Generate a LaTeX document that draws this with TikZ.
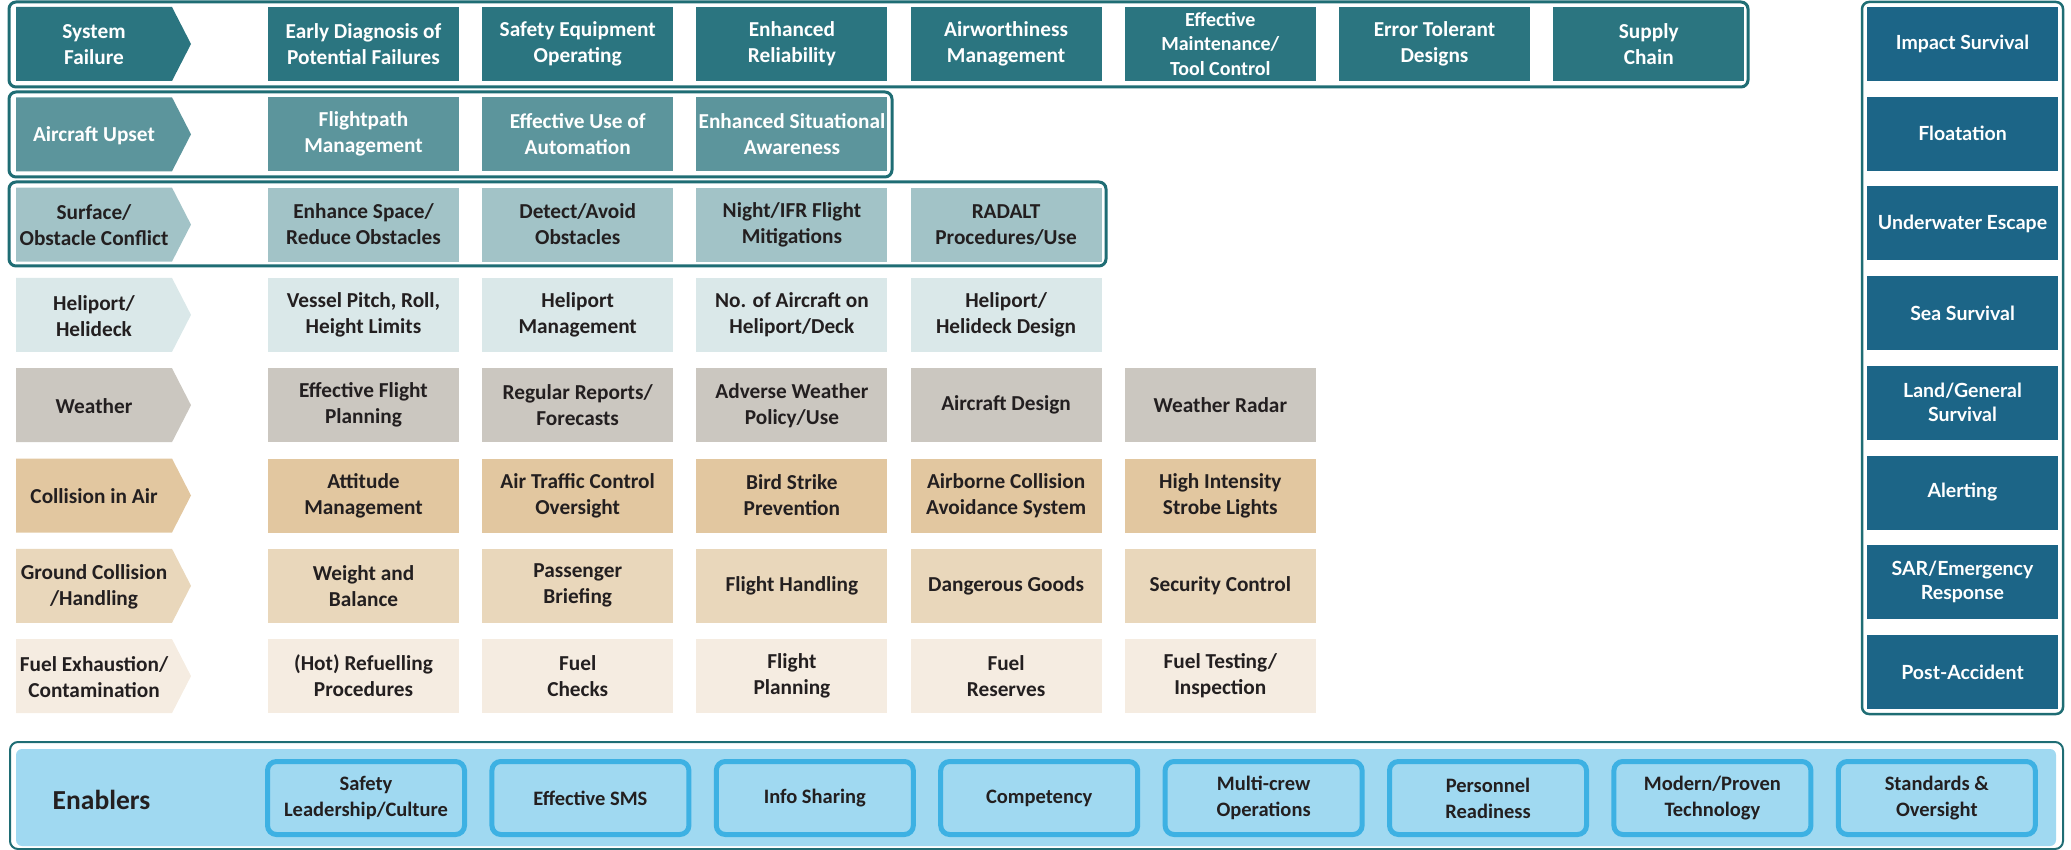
\documentclass[tikz,border=0pt]{standalone}
\usepackage{fontspec}
\setmainfont{Carlito}
\newfontfamily\rfont{Lato}
\definecolor{row1}{HTML}{2B7580}
\definecolor{row2}{HTML}{5C959C}
\definecolor{row3}{HTML}{A2C3C7}
\definecolor{row4}{HTML}{DAE8E9}
\definecolor{row5}{HTML}{CBC7C0}
\definecolor{row6}{HTML}{E2C7A0}
\definecolor{row7}{HTML}{E9D7BB}
\definecolor{row8}{HTML}{F5ECE1}
\definecolor{txtd}{HTML}{231F20}
\colorlet{txt1}{white}
\colorlet{txt2}{white}
\colorlet{txt3}{txtd}
\colorlet{txt4}{txtd}
\colorlet{txt5}{txtd}
\colorlet{txt6}{txtd}
\colorlet{txt7}{txtd}
\colorlet{txt8}{txtd}
\definecolor{framec}{HTML}{1F6D74}
\definecolor{rbox}{HTML}{1C6587}
\definecolor{enfill}{HTML}{A0D9F1}
\definecolor{enline}{HTML}{3DB1E3}
\tikzset{
  gbox/.style={rectangle, minimum width=191pt, minimum height=74pt, inner sep=0pt, align=center, font=\fontsize{21.3}{26}\selectfont\bfseries},
  ctext/.style={inner sep=0pt, align=center, font=\fontsize{21.3}{26}\selectfont\bfseries},
  grp/.style={draw=framec, line width=3pt, rounded corners=7pt},
  rb/.style={rectangle, fill=rbox, text=white, minimum width=191pt, minimum height=74pt, inner sep=0pt, align=center, font=\rfont\fontsize{19.5}{24}\selectfont\bfseries},
  eb/.style={rectangle, rounded corners=9pt, draw=enline, line width=5pt, fill=enfill, minimum width=197pt, minimum height=73pt, inner sep=0pt, align=center, text=txtd, font=\fontsize{20.5}{26}\selectfont\bfseries}
}
\newcommand\gcell[3]{\node[gbox, fill=row#1, text=txt#1] (r#1c#2) at ({363.5+214.2*(#2-1)},{44+90.3*(#1-1)}) {#3};}
\newcommand\gchev[2]{%
  \fill[row#1] (16,{7+90.3*(#1-1)}) -- (172,{7+90.3*(#1-1)}) -- (191,{44+90.3*(#1-1)}) -- (172,{81+90.3*(#1-1)}) -- (16,{81+90.3*(#1-1)}) -- cycle;
  \node[ctext, text=txt#1] (ch#1) at (94,{45+90.3*(#1-1)}) {#2};}
\newcommand\rcell[2]{\node[rb] (s#1) at (1962.5,{44+89.7*(#1-1)}) {#2};}
\newcommand\ecell[2]{\node[eb] (e#1) at ({366+224.4*(#1-1)},798) {#2};}
\begin{document}
\begin{tikzpicture}[x=1pt,y=-1pt]
\useasboundingbox (0,0) rectangle (2071,850);
% group frames
\draw[grp] (9,2) rectangle (1748,87);
\draw[grp] (9,92) rectangle (892,177);
\draw[grp] (9,182) rectangle (1106,266);
\draw[draw=framec, line width=2.5pt, rounded corners=7pt] (1862,2) rectangle (2063,714);
% row 1
\gchev{1}{System\\Failure}
\gcell{1}{1}{Early Diagnosis of\\Potential Failures}
\gcell{1}{2}{Safety Equipment\\Operating}
\gcell{1}{3}{Enhanced\\Reliability}
\gcell{1}{4}{Airworthiness\\Management}
\node[gbox, fill=row1, text=white, font=\fontsize{20}{24.5}\selectfont\bfseries] (r1c5) at ({363.5+214.2*4},44) {Effective\\Maintenance/\\Tool Control};
\gcell{1}{6}{Error Tolerant\\Designs}
\gcell{1}{7}{Supply\\Chain}
% row 2
\gchev{2}{Aircraft Upset}
\gcell{2}{1}{Flightpath\\Management}
\gcell{2}{2}{Effective Use of\\Automation}
\gcell{2}{3}{Enhanced Situational\\Awareness}
% row 3
\gchev{3}{Surface/\\Obstacle Conflict}
\gcell{3}{1}{Enhance Space/\\Reduce Obstacles}
\gcell{3}{2}{Detect/Avoid\\Obstacles}
\gcell{3}{3}{Night/IFR Flight\\Mitigations}
\gcell{3}{4}{RADALT\\Procedures/Use}
% row 4
\gchev{4}{Heliport/\\Helideck}
\gcell{4}{1}{Vessel Pitch, Roll,\\Height Limits}
\gcell{4}{2}{Heliport\\Management}
\gcell{4}{3}{No. of Aircraft on\\Heliport/Deck}
\gcell{4}{4}{Heliport/\\Helideck Design}
% row 5
\gchev{5}{Weather}
\gcell{5}{1}{Effective Flight\\Planning}
\gcell{5}{2}{Regular Reports/\\Forecasts}
\gcell{5}{3}{Adverse Weather\\Policy/Use}
\gcell{5}{4}{Aircraft Design}
\gcell{5}{5}{Weather Radar}
% row 6
\gchev{6}{Collision in Air}
\gcell{6}{1}{Attitude\\Management}
\gcell{6}{2}{Air Traffic Control\\Oversight}
\gcell{6}{3}{Bird Strike\\Prevention}
\gcell{6}{4}{Airborne Collision\\Avoidance System}
\gcell{6}{5}{High Intensity\\Strobe Lights}
% row 7
\gchev{7}{Ground Collision\\/Handling}
\gcell{7}{1}{Weight and\\Balance}
\gcell{7}{2}{Passenger\\Briefing}
\gcell{7}{3}{Flight Handling}
\gcell{7}{4}{Dangerous Goods}
\gcell{7}{5}{Security Control}
% row 8
\gchev{8}{Fuel Exhaustion/\\Contamination}
\gcell{8}{1}{(Hot) Refuelling\\Procedures}
\gcell{8}{2}{Fuel\\Checks}
\gcell{8}{3}{Flight\\Planning}
\gcell{8}{4}{Fuel\\Reserves}
\gcell{8}{5}{Fuel Testing/\\Inspection}
% right column
\rcell{1}{Impact Survival}
\rcell{2}{Floatation}
\rcell{3}{Underwater Escape}
\rcell{4}{Sea Survival}
\rcell{5}{Land/General\\Survival}
\rcell{6}{Alerting}
\rcell{7}{SAR/Emergency\\Response}
\rcell{8}{Post-Accident}
% enablers
\draw[draw=framec, line width=2pt, rounded corners=8pt] (10,742) rectangle (2063,849);
\fill[enfill, rounded corners=6pt] (16,749) rectangle (2056,846);
\node[text=txtd, inner sep=0pt, font=\fontsize{27.5}{32}\selectfont\bfseries] (en) at (101.5,800) {Enablers};
\ecell{1}{Safety\\Leadership/Culture}
\ecell{2}{Effective SMS}
\ecell{3}{Info Sharing}
\ecell{4}{Competency}
\ecell{5}{Multi-crew\\Operations}
\ecell{6}{Personnel\\Readiness}
\ecell{7}{Modern/Proven\\Technology}
\ecell{8}{Standards \&\\Oversight}
\end{tikzpicture}
\end{document}
